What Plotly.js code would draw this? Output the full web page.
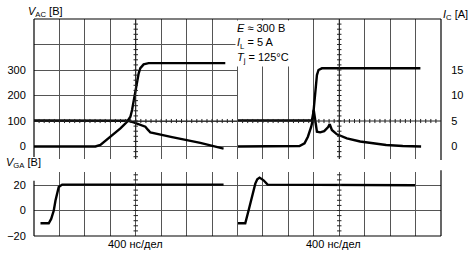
<!DOCTYPE html>
<html>
<head>
<meta charset="utf-8">
<script src="https://cdn.plot.ly/plotly-3.0.1.min.js"></script>
<style>html,body{margin:0;padding:0;background:#fff}#chart{width:472px;height:253px}</style>
</head>
<body>
<div id="chart"></div>
<script>
// ---- data (time in ns, 400 ns per division) ----
// left screen: V_AC [V] and I_C [A]
const tLeftVac = [0, 966, 1044, 1201, 1359, 1464, 1516, 1542, 1567, 1594, 1621, 1646, 1672, 1724, 1803, 3008];
const vLeftVac = [0, 0, 6, 38, 71, 97, 117, 143, 182, 215, 254, 287, 307, 322, 327, 327];
const tLeftIc = [0, 1464, 1567, 1672, 1751, 1790, 1830, 2171, 2615, 2981];
const iLeftIc = [5.1, 5.06, 4.75, 4.22, 3.88, 3.3, 2.75, 1.85, 0.7, -0.4];
// right screen: traces on I_C scale [A]
const tRightStep = [0, 1170, 1195, 1211, 1227, 1249, 1274, 1327, 2876];
const iRightStep = [5.1, 5.1, 6.8, 9.45, 12.06, 14.0, 15.0, 15.33, 15.33];
const tRightSpike = [0, 818, 975, 1054, 1107, 1159, 1190, 1198, 1214, 1249, 1300, 1363, 1426, 1450, 1484, 1563, 1720, 1929, 2075, 2337, 2599, 2887];
const iRightSpike = [0, 0, 0.1, 0.63, 1.92, 3.88, 5.6, 7.2, 5.6, 2.9, 2.78, 3.0, 3.8, 4.4, 3.24, 2.39, 1.6, 0.98, 0.75, 0.29, 0.1, 0];
// gate voltage V_GA [V]
const tLeftGate = [102, 232, 270, 311, 338, 364, 389, 443, 2981];
const vLeftGate = [-10, -10, -6.6, 0, 7.9, 14.5, 18.4, 20.3, 20.3];
const tRightGate = [0, 122, 174, 228, 280, 311, 347, 410, 473, 2792];
const vRightGate = [-10, -10, 0, 10.5, 21.1, 24.5, 25.8, 23.7, 20.3, 19.8];
// tick labels
const vacTicks = [0, 100, 200, 300, 400];
const vacTickText = ['0', '100', '200', '300', ''];
const icTicks = [0, 5, 10, 15, 20];
const icTickText = ['0', '5', '10', '15', ''];
const gaTicks = [-20, 0, 20];
const gaTickText = ['\u221220', '0', '20'];

const FONT = 'Liberation Sans, Arial, Helvetica, sans-serif';
const GRID = '#555';
const lineStyle = {color: '#000', width: 2.4, shape: 'linear'};

const traces = [
  {x: tLeftVac, y: vLeftVac, xaxis: 'x', yaxis: 'y', mode: 'lines', line: lineStyle},
  {x: tLeftIc, y: iLeftIc, xaxis: 'x', yaxis: 'y4', mode: 'lines', line: lineStyle},
  {x: tRightStep, y: iRightStep, xaxis: 'x2', yaxis: 'y3', mode: 'lines', line: lineStyle},
  {x: tRightSpike, y: iRightSpike, xaxis: 'x2', yaxis: 'y3', mode: 'lines', line: lineStyle},
  {x: tLeftGate, y: vLeftGate, xaxis: 'x3', yaxis: 'y2', mode: 'lines', line: lineStyle},
  {x: tRightGate, y: vRightGate, xaxis: 'x4', yaxis: 'y2', mode: 'lines', line: lineStyle}
];

const topDom = [0.3548, 1];
const botDom = [0, 0.2949];
const xBase = {range: [0, 3200], tick0: 0, dtick: 400, showgrid: true, gridcolor: GRID, gridwidth: 1,
  showticklabels: false, ticks: '', zeroline: false, showline: false, fixedrange: true};

const layout = {
  width: 472, height: 253,
  margin: {l: 34, r: 31, t: 19, b: 17, pad: 0},
  paper_bgcolor: '#fff', plot_bgcolor: 'rgba(0,0,0,0)',
  showlegend: false,
  font: {family: FONT, size: 11, color: '#000'},
  xaxis: Object.assign({}, xBase, {domain: [0, 0.5], anchor: 'y'}),
  xaxis2: Object.assign({}, xBase, {domain: [0.5, 1], anchor: 'y'}),
  xaxis3: Object.assign({}, xBase, {domain: [0, 0.5], anchor: 'y2'}),
  xaxis4: Object.assign({}, xBase, {domain: [0.5, 1], anchor: 'y2'}),
  yaxis: {domain: topDom, anchor: 'x', range: [-49, 500], tickmode: 'array', tickvals: vacTicks, ticktext: vacTickText,
    showgrid: true, gridcolor: GRID, gridwidth: 1, zeroline: false, showline: false,
    ticks: 'outside', ticklen: 5, tickcolor: 'rgba(0,0,0,0)', tickfont: {family: FONT, size: 11, color: '#000'}},
  yaxis2: {domain: botDom, anchor: 'x3', range: [-20, 30.2], tickmode: 'array', tickvals: gaTicks, ticktext: gaTickText,
    showgrid: true, gridcolor: GRID, gridwidth: 1, zeroline: false, showline: false,
    ticks: 'outside', ticklen: 5, tickcolor: 'rgba(0,0,0,0)', tickfont: {family: FONT, size: 11, color: '#000'}},
  yaxis3: {overlaying: 'y', anchor: 'x2', side: 'right', range: [-2.45, 25], tickmode: 'array', tickvals: icTicks, ticktext: icTickText,
    showgrid: false, zeroline: false, showline: false,
    ticks: 'outside', ticklen: 7, tickcolor: 'rgba(0,0,0,0)', tickfont: {family: FONT, size: 11, color: '#000'}},
  yaxis4: {overlaying: 'y', anchor: 'x', range: [-2.45, 25], visible: false, showgrid: false, zeroline: false},
  shapes: [],
  annotations: []
};

const S = layout.shapes;
function pline(x0, y0, x1, y1, color, w) {
  S.push({type: 'line', xref: 'paper', yref: 'paper', x0: x0, y0: y0, x1: x1, y1: y1, line: {color: color, width: w}, layer: 'above'});
}
// frame lines
pline(0, 1, 1, 1, '#000', 1.2);             // top border
pline(0, 0.364, 0, 1, '#000', 1.2);         // left border top screen
pline(1, 0.350, 1, 1, '#000', 1.2);         // I_C axis line
pline(0.5, topDom[0], 0.5, 1, GRID, 1);     // screen divider (top)
pline(0, 0, 1, 0, '#000', 1.2);             // bottom border
pline(0, 0, 0, 0.255, '#000', 1.2);         // left border bottom screen
pline(1, 0, 1, 0.303, '#000', 1.2);         // right border bottom screen
pline(0.5, 0, 0.5, botDom[1], GRID, 1);     // screen divider (bottom)

// graticule minor ticks on centre lines
function dline(xr, yr, x0, y0, x1, y1) {
  S.push({type: 'line', xref: xr, yref: yr, x0: x0, y0: y0, x1: x1, y1: y1, line: {color: '#222', width: 1}});
}
[['x', 'y'], ['x2', 'y']].forEach(function (p) {
  dline(p[0], p[1], 1600, -49, 1600, 500);
  for (let v = -40; v <= 480; v += 20) dline(p[0], p[1], 1565, v, 1635, v);
  for (let t = 80; t < 3200; t += 80) dline(p[0], p[1], t, 92, t, 108);
  dline(p[0], p[1], 0, 100, 3200, 100);
});
[['x3', 'y2'], ['x4', 'y2']].forEach(function (p) {
  for (let v = -16; v <= 28; v += 4) dline(p[0], p[1], 1565, v, 1635, v);
});

// texts
const A = layout.annotations;
function ptext(px, py, text, xanchor, extra) {
  A.push(Object.assign({xref: 'paper', yref: 'paper', x: (px - 34) / 407, y: (236 - py) / 217, text: text, showarrow: false,
    xanchor: xanchor || 'left', yanchor: 'middle', font: {family: FONT, size: 11, color: '#000'}}, extra || {}));
}
ptext(26, 12, '<i>V</i><sub>AC</sub> [B]');
ptext(441, 15, '<i>I</i><sub>C</sub> [A]');
ptext(4, 163, '<i>V</i><sub>GA</sub> [B]');
ptext(235, 44, '<i>E</i> \u2248 300 B<br><i>I</i><sub>L</sub> = 5 A<br><i>T</i><sub>j</sub> = 125\u00b0C', 'left',
  {align: 'left', bgcolor: '#fff', borderpad: 1});
ptext(135, 244, '400 \u043d\u0441/\u0434\u0435\u043b', 'center');
ptext(333, 244, '400 \u043d\u0441/\u0434\u0435\u043b', 'center');

Plotly.newPlot('chart', traces, layout, {staticPlot: true, displayModeBar: false});
</script>
</body>
</html>
